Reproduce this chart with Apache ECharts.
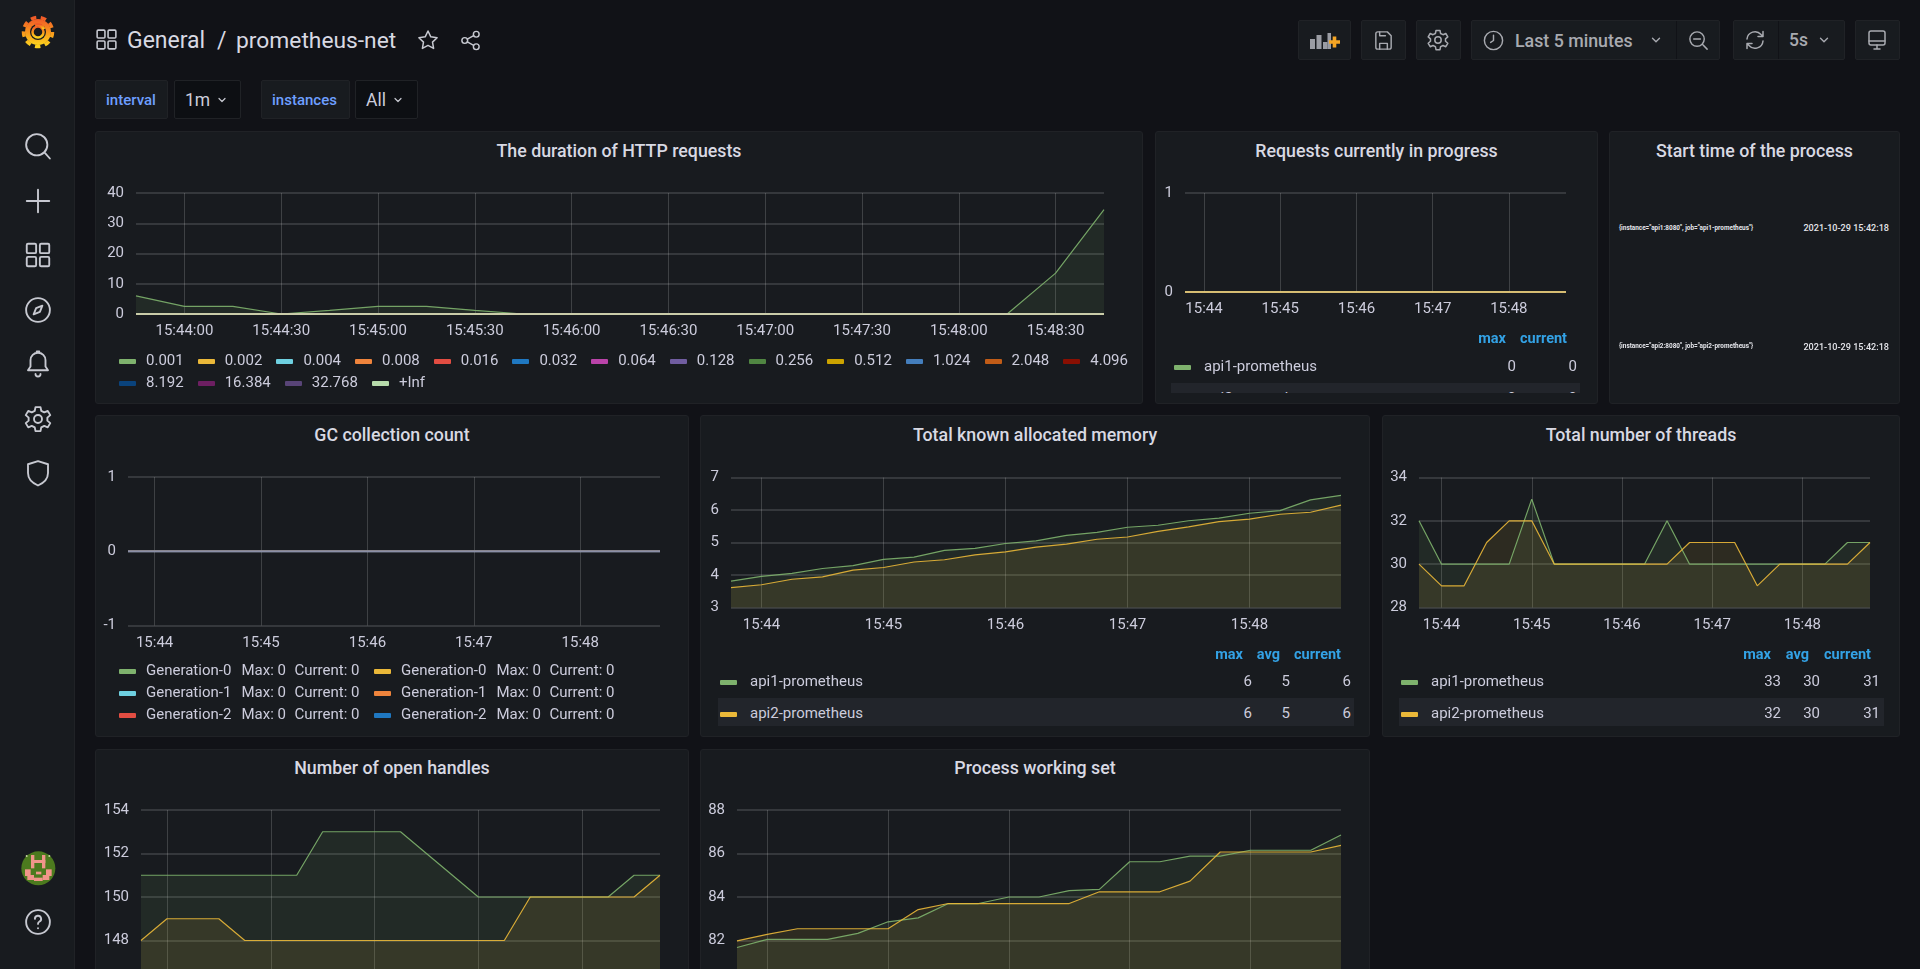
<!DOCTYPE html>
<html>
<head>
<meta charset="utf-8">
<title>prometheus-net</title>
<script src="https://cdn.jsdelivr.net/npm/echarts@6/dist/echarts.min.js"></script>
<style>
html,body{margin:0;padding:0;width:1920px;height:969px;overflow:hidden;background:#111217;font-family:Roboto,sans-serif;color:#ccccdc;}
.abs{position:absolute;white-space:nowrap;}
.panel{position:absolute;background:#181b1f;border:1px solid #202226;border-radius:3px;box-sizing:border-box;overflow:hidden;}
.chart{position:absolute;left:0;top:0;}
.title{position:absolute;left:0;right:0;text-align:center;font-size:17.8px;font-weight:500;color:#d8d9e3;}
.btn{position:absolute;background:#181b1f;border:1px solid #202226;border-radius:2px;box-sizing:border-box;}
.var{color:#6e9fff;font-weight:500;font-size:15px;}
#side{position:absolute;left:0;top:0;width:75px;height:969px;background:#181b1f;border-right:1px solid #202226;box-sizing:border-box;}
svg.ic{position:absolute;fill:none;stroke:#c7c9d1;stroke-width:1.5;stroke-linecap:round;stroke-linejoin:round;}
</style>
</head>
<body>
<div id="side"></div>
<div id="root"></div>
<script>
// 15 second steps, 15:43:45 to 15:48:45
var times = ["15:43:45","15:44:00","15:44:15","15:44:30","15:44:45","15:45:00","15:45:15","15:45:30","15:45:45","15:46:00","15:46:15","15:46:30","15:46:45","15:47:00","15:47:15","15:47:30","15:47:45","15:48:00","15:48:15","15:48:30","15:48:45"];

var bucketNames = ["0.001","0.002","0.004","0.008","0.016","0.032","0.064","0.128","0.256","0.512","1.024","2.048","4.096","8.192","16.384","32.768","+Inf"];
var bucketColors = ["#7EB26D","#EAB839","#6ED0E0","#EF843C","#E24D42","#1F78C1","#BA43A9","#705DA0","#508642","#CCA300","#447EBC","#C15C17","#890F02","#0A437C","#6D1F62","#584477","#B7DBAB"];
var bucketFirst = [6,2.5,2.5,0,1.2,2.5,2.5,1.2,0,0,0,0,0,0,0,0,0,0,0,13.5,34.5];
var zeros = [0,0,0,0,0,0,0,0,0,0,0,0,0,0,0,0,0,0,0,0,0];

var memApi1 = [3.81,3.96,4.05,4.2,4.29,4.48,4.55,4.76,4.82,4.97,5.05,5.22,5.31,5.47,5.53,5.67,5.75,5.9,5.98,6.31,6.45];
var memApi2 = [3.61,3.7,3.87,3.94,4.15,4.23,4.4,4.47,4.62,4.71,4.86,4.95,5.1,5.17,5.34,5.48,5.64,5.72,5.87,5.93,6.15];
var threadApi1 = [32,30,30,30,30,33,30,30,30,30,30,32,30,30,30,30,30,30,30,31,31];
var threadApi2 = [30,29,29,31,32,32,30,30,30,30,30,30,31,31,31,29,30,30,30,30,31];
var handleApi1 = [151,151,151,151,151,151,151,153,153,153,153,152,151,150,150,150,150,150,150,151,151];
var handleApi2 = [148,149,149,149,148,148,148,148,148,148,148,148,148,148,148,150,150,150,150,150,151];
var setApi1 = [81.68,82.05,82.05,82.05,82.33,82.86,83.04,83.7,83.7,84,84,84.29,84.35,85.62,85.62,85.88,85.88,86.15,86.15,86.15,86.85];
var setApi2 = [81.98,82.28,82.54,82.54,82.54,82.54,83.42,83.7,83.7,83.7,83.7,83.7,84.24,84.24,84.24,84.73,86.07,86.07,86.07,86.07,86.37];

var genNames = ["Generation-0","Generation-1","Generation-2","Generation-0","Generation-1","Generation-2"];
var genColors = ["#7EB26D","#6ED0E0","#E24D42","#EAB839","#EF843C","#1F78C1"];
var apiNames = ["api1-prometheus","api2-prometheus"];
var apiColors = ["#7EB26D","#EAB839"];

var root = document.getElementById("root");
var blue = "#33a2e5";

function put(txt, x, cy, css){
    var d = document.createElement("div");
    d.className = "abs";
    d.textContent = txt;
    d.style.cssText = "left:"+x+"px;top:"+cy+"px;transform:translateY(-50%);font-size:15px;" + (css||"");
    (put.into||root).appendChild(d);
    return d;
}
function putRight(txt, x, cy, css){
    var d = put(txt, x, cy, css);
    d.style.transform = "translate(-100%,-50%)";
    return d;
}
function swatch(x, cy, color){
    var d = document.createElement("div");
    d.className = "abs";
    d.style.cssText = "left:"+x+"px;top:"+(cy-2.5)+"px;width:17px;height:5px;border-radius:1px;background:"+color;
    (put.into||root).appendChild(d);
}
function box(x, y, w, h, color, parent){
    var d = document.createElement("div");
    d.className = "abs";
    d.style.cssText = "left:"+x+"px;top:"+y+"px;width:"+w+"px;height:"+h+"px;background:"+color;
    (parent||root).appendChild(d);
}

// one panel + its echarts instance; x0,x1,y0,y1 are page coords of the plot
function panel(title, px, py, pw, ph, titleY, plot){
    var p = document.createElement("div");
    p.className = "panel";
    p.style.cssText = "left:"+px+"px;top:"+py+"px;width:"+pw+"px;height:"+ph+"px;";
    root.appendChild(p);
    var t = document.createElement("div");
    t.className = "title";
    t.textContent = title;
    t.style.top = (titleY-py-12)+"px";
    p.appendChild(t);
    if(!plot) return p;

    var c = document.createElement("div");
    c.className = "chart";
    c.style.width = pw+"px";
    c.style.height = ph+"px";
    p.appendChild(c);
    var chart = echarts.init(c);
    var last = plot.data.length - 1;
    var series = plot.data.map(function(d, i){
        var lineColor = (i == last && plot.topColor) ? plot.topColor : plot.colors[i];
        var lineWidth = (i == last && plot.topWidth) ? plot.topWidth : 1.2;
        return {
            name: plot.names[i], type:"line", data:d, showSymbol:false, silent:true,
            lineStyle:{color:lineColor, width:lineWidth, opacity:0.9},
            itemStyle:{color:plot.colors[i]},
            areaStyle:{color:plot.colors[i], opacity:0.1},
            animation:false
        };
    });
    var longLabels = plot.longLabels;
    var step = longLabels ? 2 : 4;
    var tickAt = function(i){ return i % step == 1; };
    chart.setOption({
        animation:false,
        grid:{left:plot.x0-px-1, right:px+pw+1-plot.x1, top:plot.y0-py-1, height:plot.y1-plot.y0, containLabel:false},
        xAxis:{
            type:"category", data:times, boundaryGap:false,
            axisLine:{show:false}, axisTick:{show:false},
            axisLabel:{
                color:"#ccccdc", fontFamily:"Roboto", fontSize:15, margin:10, interval:tickAt,
                formatter:function(v){ return longLabels ? v : v.slice(0,5); }
            },
            splitLine:{show:true, interval:tickAt, lineStyle:{color:"rgba(255,255,255,0.17)", width:1}}
        },
        yAxis:{
            type:"value", min:plot.min, max:plot.max, interval:plot.interval,
            axisLine:{show:false}, axisTick:{show:false},
            axisLabel:{color:"#ccccdc", fontFamily:"Roboto", fontSize:15, margin:12, padding:[0,0,plot.labelUp||0,0]},
            splitLine:{lineStyle:{color:"rgba(255,255,255,0.13)", width:2}}
        },
        series:series
    });
    return p;
}

function repeat(arr, n){
    var out = [];
    for(var i=0;i<n;i++) out.push(arr);
    return out;
}

// panels
var durData = repeat(zeros, 17);
durData[0] = bucketFirst;
panel("The duration of HTTP requests", 95,131,1048,273, 151, {x0:136,x1:1104,y0:193,y1:314,min:0,max:40,interval:10,longLabels:true,data:durData,names:bucketNames,colors:bucketColors,topWidth:2,topColor:"#d5dcb0"});
panel("Requests currently in progress", 1155,131,443,273, 151, {x0:1185,x1:1566,y0:193,y1:292,min:0,max:1,interval:1,data:[zeros,zeros],names:apiNames,colors:apiColors,topWidth:2,topColor:"#e6c878"});
panel("Start time of the process", 1609,131,291,273, 151);
panel("GC collection count", 95,415,594,322, 435, {x0:128,x1:660,y0:477,y1:625.5,min:-1,max:1,interval:1,data:repeat(zeros,6),names:genNames,colors:genColors,topWidth:2,topColor:"#7f8fb3",labelUp:2});
panel("Total known allocated memory", 700,415,670,322, 435, {x0:731,x1:1341,y0:477.5,y1:607.5,min:3,max:7,interval:1,data:[memApi1,memApi2],names:apiNames,colors:apiColors});
panel("Total number of threads", 1382,415,518,322, 435, {x0:1419,x1:1870,y0:477.5,y1:607.5,min:28,max:34,interval:2,data:[threadApi1,threadApi2],names:apiNames,colors:apiColors,labelUp:2});
panel("Number of open handles", 95,749,594,300, 768, {x0:141,x1:660,y0:810,y1:984,min:146,max:154,interval:2,data:[handleApi1,handleApi2],names:apiNames,colors:apiColors,labelUp:2});
panel("Process working set", 700,749,670,300, 768, {x0:737,x1:1341,y0:810,y1:984,min:80,max:88,interval:2,data:[setApi1,setApi2],names:apiNames,colors:apiColors,labelUp:2});

// duration legend
var lx = 119, ly = 360;
bucketNames.forEach(function(n, i){
    if(i == 13){ lx = 119; ly = 382; }
    swatch(lx, ly+1, bucketColors[i]);
    var d = put(n, lx+27, ly);
    lx += 27 + d.getBoundingClientRect().width + 14;
});

// in progress legend
putRight("max", 1506, 338, "color:"+blue+";font-weight:700;font-size:14.5px;");
putRight("current", 1567, 338, "color:"+blue+";font-weight:700;font-size:14.5px;");
swatch(1174, 367, apiColors[0]);
put(apiNames[0], 1204, 366);
putRight("0", 1516, 366);
putRight("0", 1577, 366);
var clip = document.createElement("div");
clip.className = "abs";
clip.style.cssText = "left:1171px;top:383px;width:409px;height:10px;overflow:hidden;background:#22252b;";
root.appendChild(clip);
put.into = clip;
put(apiNames[1], 33, 15);
putRight("0", 345, 15);
putRight("0", 406, 15);
put.into = null;

// start times
var startInst = ['{instance="api1:8080", job="api1-prometheus"}','{instance="api2:8080", job="api2-prometheus"}'];
var startVals = ["2021-10-29 15:42:18","2021-10-29 15:42:18"];
put(startInst[0], 1619, 228, "font-size:6.4px;font-weight:700;color:#e4e5ea;");
putRight(startVals[0], 1889, 228, "font-size:9.1px;font-weight:500;color:#e4e5ea;");
put(startInst[1], 1619, 346, "font-size:6.4px;font-weight:700;color:#e4e5ea;");
putRight(startVals[1], 1889, 347, "font-size:9.1px;font-weight:500;color:#e4e5ea;");

// GC legend
genNames.forEach(function(n, i){
    var col = i < 3 ? 119 : 374;
    var cy = 670 + (i % 3) * 22;
    swatch(col, cy+1, genColors[i]);
    put(n, col+27, cy);
    put("Max: 0", col+122.5, cy);
    put("Current: 0", col+175.5, cy);
});

// table legends
function tableLegend(swX, txtX, bgX, bgW, heads, vals){
    heads.forEach(function(h){
        putRight(h[0], h[1], 654, "color:"+blue+";font-weight:700;font-size:14.5px;");
    });
    box(bgX, 698, bgW, 28, "#22252b");
    apiNames.forEach(function(n, i){
        var cy = i == 0 ? 681 : 713;
        swatch(swX, cy+1, apiColors[i]);
        put(n, txtX, cy);
        vals[i].forEach(function(v){ putRight(v[0], v[1], cy); });
    });
}
tableLegend(720, 750, 718, 636, [["max",1243],["avg",1280],["current",1341]],
    [[["6",1252],["5",1290],["6",1351]], [["6",1252],["5",1290],["6",1351]]]);
tableLegend(1401, 1431, 1399, 485, [["max",1771],["avg",1809],["current",1871]],
    [[["33",1781],["30",1820],["31",1880]], [["32",1781],["30",1820],["31",1880]]]);

// header
function icon(cx, cy, size, inner, extra){
    root.insertAdjacentHTML("beforeend",
        '<svg class="ic" viewBox="0 0 24 24" width="'+size+'" height="'+size+'" style="left:'+(cx-size/2)+'px;top:'+(cy-size/2)+'px;'+(extra||"")+'">'+inner+'</svg>');
}
function btn(x0, x1){
    var d = document.createElement("div");
    d.className = "btn";
    d.style.cssText = "left:"+x0+"px;top:20px;width:"+(x1-x0)+"px;height:40px;";
    root.appendChild(d);
}
var appsIcon = '<rect x="3" y="3" width="7.5" height="7.5" rx="1"/><rect x="13.5" y="3" width="7.5" height="7.5" rx="1"/><rect x="3" y="13.5" width="7.5" height="7.5" rx="1"/><rect x="13.5" y="13.5" width="7.5" height="7.5" rx="1"/>';
var gearIcon = '<circle cx="12" cy="12" r="3.2"/><path d="M10 2.5h4l.6 3 2.4 1.2 2.8-1.2 2 3.4-2.3 2 0 2.4 2.3 2-2 3.4-2.8-1.2-2.4 1.2-.6 3h-4l-.6-3-2.4-1.2-2.8 1.2-2-3.4 2.3-2 0-2.4-2.3-2 2-3.4 2.8 1.2 2.4-1.2z"/>';

icon(106, 39, 25, appsIcon);
put("General", 127, 39.5, "font-size:23px;color:#d8d9e3;");
put("/", 217, 39.5, "font-size:23px;color:#d8d9e3;");
put("prometheus-net", 236, 39.5, "font-size:22.8px;color:#d8d9e3;");
icon(428, 40, 24, '<path d="M12 3l2.8 5.8 6.3.9-4.6 4.4 1.1 6.3L12 17.4l-5.6 3 1.1-6.3L2.9 9.7l6.3-.9z"/>');
icon(470, 40, 23, '<circle cx="18" cy="5.5" r="3"/><circle cx="6" cy="12" r="3"/><circle cx="18" cy="18.5" r="3"/><path d="M8.7 10.5l6.6-3.6M8.7 13.5l6.6 3.6"/>');

btn(1298,1351); btn(1361,1406); btn(1416,1461); btn(1471,1720); btn(1733,1845); btn(1855,1900);
box(1676,21,1,38,"#111217"); box(1778,21,1,38,"#111217");
root.insertAdjacentHTML("beforeend", '<svg class="abs" width="200" height="50" viewBox="0 0 200 50" style="left:1290px;top:15px;"><g fill="#9a9ca3"><rect x="20" y="24" width="5" height="10"/><rect x="26.500" y="20" width="5" height="14"/><rect x="33" y="27" width="4.500" height="7"/><rect x="37.500" y="18" width="3.500" height="16"/></g><path d="M39 27h11M44.500 21.500v11" stroke="#f5a524" stroke-width="3.600"/></svg>');
icon(1383, 40, 23, '<path d="M6 3h10l4 4v12a2 2 0 0 1-2 2H6a2 2 0 0 1-2-2V5a2 2 0 0 1 2-2z"/><path d="M8 21v-6h8v6M8 3v4h6"/>', "stroke:#a8aab0;");
icon(1438, 40, 24, gearIcon, "stroke:#a8aab0;");
icon(1493, 40, 23, '<circle cx="12" cy="12" r="9.500"/><path d="M12 6.500V12l-3 2"/>', "stroke:#a8aab0;");
put("Last 5 minutes", 1515, 40, "font-size:17.8px;font-weight:500;color:#a8aab0;");
icon(1656, 40, 14, '<path d="M6 9l6 6 6-6"/>', "stroke-width:2.4;stroke:#a8aab0;");
icon(1698, 40, 23, '<circle cx="10.500" cy="10.500" r="7.500"/><path d="M7 10.500h7M16 16l5 5"/>', "stroke:#a8aab0;");
icon(1755, 40, 24, '<path d="M4 11a8 8 0 0 1 14-4.500l2 2M20 3.500v5h-5M20 13a8 8 0 0 1-14 4.500l-2-2M4 20.500v-5h5"/>', "stroke:#a8aab0;");
put("5s", 1789, 40, "font-size:17.5px;font-weight:500;color:#a8aab0;");
icon(1824, 40, 14, '<path d="M6 9l6 6 6-6"/>', "stroke-width:2.4;stroke:#a8aab0;");
icon(1877, 40, 24, '<rect x="4" y="3" width="16" height="14" rx="2"/><path d="M4 13h16M9 21h6M12 17v4"/>', "stroke:#a8aab0;");

// variables row
function varBtn(x0, x1, bg){
    var d = document.createElement("div");
    d.className = "btn";
    d.style.cssText = "left:"+x0+"px;top:80px;width:"+(x1-x0)+"px;height:39px;background:"+bg+";";
    root.appendChild(d);
}
varBtn(95,168,"#181b1f"); varBtn(174,241,"#0d0f13"); varBtn(261,350,"#181b1f"); varBtn(355,418,"#0d0f13");
put("interval", 106, 100, "").className = "abs var";
put("1m", 185, 100, "font-size:17.5px;");
icon(222, 100, 12, '<path d="M6 9l6 6 6-6"/>', "stroke-width:2.4;");
put("instances", 272, 100, "").className = "abs var";
put("All", 366, 100, "font-size:17.5px;");
icon(398, 100, 12, '<path d="M6 9l6 6 6-6"/>', "stroke-width:2.4;");

// sidebar
root.insertAdjacentHTML("beforeend", '<svg class="abs" width="36" height="38" viewBox="0 0 36 38" style="left:20px;top:13px;"><defs><linearGradient id="gf" x1="0" y1="0" x2="0" y2="1"><stop offset="0" stop-color="#f05a28"/><stop offset="0.55" stop-color="#f99c1c"/><stop offset="1" stop-color="#fbd31e"/></linearGradient></defs><circle cx="18" cy="19" r="13" fill="url(#gf)"/><circle cx="18" cy="19" r="14.500" fill="none" stroke="url(#gf)" stroke-width="3.500" stroke-dasharray="5.500 4.600"/><circle cx="18" cy="19" r="8" fill="#181b1f"/><circle cx="18" cy="19" r="5.500" fill="none" stroke="url(#gf)" stroke-width="2.500"/><path d="M24 16a7 7 0 0 0-9-4" fill="none" stroke="url(#gf)" stroke-width="3"/></svg>');
icon(38, 146, 30, '<circle cx="11" cy="11" r="8.500"/><path d="M17.500 17.500L21.500 22"/>');
icon(38, 201, 30, '<path d="M12 3v18M3 12h18"/>');
icon(38, 255, 30, appsIcon);
icon(38, 310, 30, '<circle cx="12" cy="12" r="9.500"/><path d="M15.500 8.500l-2 5-5 2 2-5z"/>');
icon(38, 364, 30, '<path d="M12 3a6 6 0 0 1 6 6v5l2 3H4l2-3V9a6 6 0 0 1 6-6zM10 20a2 2 0 0 0 4 0M11 3V2h2v1"/>');
icon(38, 419, 30, gearIcon);
icon(38, 473, 30, '<path d="M12 2.500l8 2.500v7c0 5-3.500 8-8 10-4.500-2-8-5-8-10V5z"/>');
root.insertAdjacentHTML("beforeend", '<svg class="abs" width="60" height="60" viewBox="0 0 180 180" style="left:10px;top:840px;"><circle cx="85" cy="85" r="51" fill="#4c7a1e"/><g fill="#f0958a"><rect x="63" y="45" width="10" height="40"/><rect x="96" y="45" width="10" height="40"/><rect x="63" y="60" width="43" height="9"/><rect x="45" y="88" width="17" height="20"/><rect x="108" y="88" width="17" height="20"/><rect x="52" y="105" width="20" height="15"/><rect x="98" y="105" width="20" height="15"/><rect x="78" y="95" width="16" height="8"/><rect x="72" y="113" width="26" height="10"/></g><circle cx="50" cy="48" r="3" fill="#c8d8a0"/><circle cx="118" cy="48" r="3" fill="#c8d8a0"/></svg>');
icon(38, 922, 30, '<circle cx="12" cy="12" r="9.500"/><path d="M9.500 9.500a2.500 2.500 0 1 1 3.500 2.300c-.7.400-1 .9-1 1.700M12 17h.01"/>');
</script>
</body>
</html>
